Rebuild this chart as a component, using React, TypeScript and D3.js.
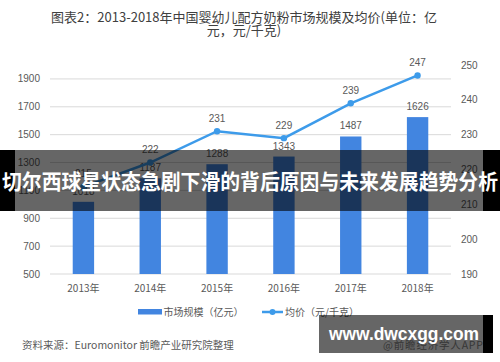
import React from "react";
import * as d3 from "d3";

const years = ["2013年", "2014年", "2015年", "2016年", "2017年", "2018年"];
const marketSize = [1018, 1187, 1288, 1343, 1487, 1626];
const avgPrice = [215, 222, 231, 229, 239, 247];
const leftTicks = [500, 700, 900, 1100, 1300, 1500, 1700, 1900];
const rightTicks = [190, 200, 210, 220, 230, 240, 250];

const W = 500;
const H = 362;
const plotLeft = 50;
const plotRight = 451;
const plotTop = 65;
const plotBottom = 274;

const CJK = "'Noto Sans CJK SC', 'Liberation Sans', sans-serif";
const LAT = "'Liberation Sans', 'Noto Sans CJK SC', sans-serif";

export default function App() {
  const x = d3.scaleBand<string>().domain(years).range([plotLeft, plotRight]).paddingInner(0.68).paddingOuter(0.34);
  const yL = d3.scaleLinear().domain([500, 2000]).range([plotBottom, plotTop]);
  const yR = d3.scaleLinear().domain([190, 250]).range([plotBottom, plotTop]);
  const cx = (d: string) => (x(d) as number) + x.bandwidth() / 2;
  const line = d3
    .line<number>()
    .x((_, i) => cx(years[i]))
    .y((d) => yR(d));

  const barColor = "#4285e0";
  const lineColor = "#3d9bea";
  const textColor = "#595959";

  return (
    <svg
      width={W}
      height={H}
      style={{ position: "absolute", left: 0, top: 0, background: "#fff" }}
    >
      <rect x={0} y={0} width={W} height={H} fill="#fff" />
      {/* title */}
      <text x={244} y={22} textAnchor="middle" fontFamily={CJK} fontSize={13} fill="#404040">
        图表2：2013-2018年中国婴幼儿配方奶粉市场规模及均价(单位：亿
      </text>
      <text x={244} y={35} textAnchor="middle" fontFamily={CJK} fontSize={13} fill="#404040">
        元，元/千克)
      </text>

      {/* gridlines */}
      {leftTicks.map((t) => (
        <line key={t} x1={plotLeft} x2={plotRight} y1={yL(t)} y2={yL(t)} stroke="#d9d9d9" strokeWidth={1} />
      ))}
      {/* left axis labels */}
      {leftTicks.map((t) => (
        <text key={t} x={40} y={yL(t)} dy="0.35em" textAnchor="end" fontFamily={LAT} fontSize={10} fill={textColor}>
          {t}
        </text>
      ))}
      {/* right axis labels */}
      {rightTicks.map((t) => (
        <text key={t} x={461} y={yR(t)} dy="0.35em" textAnchor="start" fontFamily={LAT} fontSize={10} fill={textColor}>
          {t}
        </text>
      ))}
      {/* bars */}
      {marketSize.map((v, i) => (
        <rect key={i} x={x(years[i])} y={yL(v)} width={x.bandwidth()} height={plotBottom - yL(v)} fill={barColor} />
      ))}
      {marketSize.map((v, i) => (
        <text key={i} x={cx(years[i])} y={yL(v) - 7} textAnchor="middle" fontFamily={LAT} fontSize={10} fill={textColor}>
          {v}
        </text>
      ))}
      {/* x labels */}
      {years.map((y) => (
        <text key={y} x={cx(y)} y={288} dy="0.35em" textAnchor="middle" fontFamily={CJK} fontSize={10} fill={textColor}>
          {y}
        </text>
      ))}
      {/* line */}
      <path d={line(avgPrice) || ""} fill="none" stroke={lineColor} strokeWidth={2.5} />
      {avgPrice.map((v, i) => (
        <circle key={i} cx={cx(years[i])} cy={yR(v)} r={3.2} fill={lineColor} />
      ))}
      {avgPrice.map((v, i) => (
        <text key={i} x={cx(years[i])} y={yR(v) - 9.5} textAnchor="middle" fontFamily={LAT} fontSize={10} fill={textColor}>
          {v}
        </text>
      ))}

      {/* legend */}
      <rect x={138} y={309} width={24} height={5.5} fill={barColor} />
      <text x={163.5} y={312} dy="0.35em" fontFamily={CJK} fontSize={10} fill={textColor}>
        市场规模（亿元）
      </text>
      <line x1={262} x2={283} y1={312} y2={312} stroke={lineColor} strokeWidth={2.5} />
      <circle cx={272.5} cy={312} r={3} fill={lineColor} />
      <text x={285} y={312} dy="0.35em" fontFamily={CJK} fontSize={10} fill={textColor}>
        均价（元/千克）
      </text>

      {/* source */}
      <text x={22} y={345} dy="0.35em" fontFamily={CJK} fontSize={10.5} fill={textColor}>
        资料来源：Euromonitor 前瞻产业研究院整理
      </text>
      <text x={383} y={345} dy="0.35em" fontFamily={CJK} fontSize={10.5} fill="#8a8a8a" textLength={100}>
        @前瞻经济学人APP
      </text>

      {/* banner overlay */}
      <rect x={15} y={150} width={468} height={61} fill="#000" opacity={0.6} />
      <rect x={0} y={150} width={15} height={61} fill="#000" />
      <rect x={483} y={150} width={17} height={61} fill="#000" />
      <text
        x={2}
        y={182}
        dy="0.35em"
        fontFamily={CJK}
        fontWeight="bold"
        fontSize={21}
        fill="#fff"
        textLength={496}
        lengthAdjust="spacingAndGlyphs"
      >
        切尔西球星状态急剧下滑的背后原因与未来发展趋势分析
      </text>

      {/* watermark box */}
      <rect x={319} y={315} width={164} height={38} fill="#000" opacity={0.6} />
      <rect x={483} y={315} width={10} height={38} fill="#000" />
      <text
        x={329}
        y={333}
        dy="0.35em"
        fontFamily={LAT}
        fontWeight="bold"
        fontSize={19}
        fill="#fff"
        textLength={150}
        lengthAdjust="spacingAndGlyphs"
      >
        www.dwcxgg.com
      </text>
    </svg>
  );
}
